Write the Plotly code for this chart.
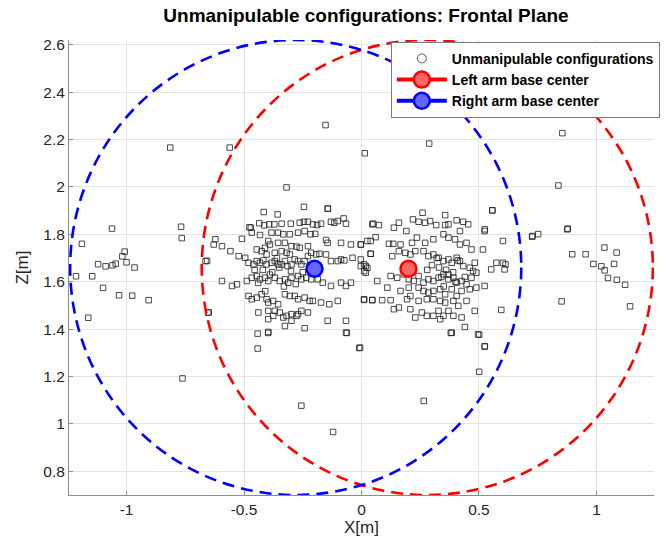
import plotly.graph_objects as go

# ---------------- data ----------------
# Unmanipulable configurations, cluster around the right arm base (negative X)
right_cluster_x = [-0.245, -0.144, -0.357, -0.416, -0.477, -0.435, -0.414, -0.393, -0.371, -0.340, -0.301, -0.263,
                   -0.245, -0.228, -0.207, -0.189, -0.172, -0.130, -0.116, -0.101, -0.076, -0.066, -0.467, -0.432,
                   -0.383, -0.355, -0.333, -0.305, -0.270, -0.242, -0.217, -0.197, -0.151, -0.144, -0.087, -0.045,
                   -0.003, 0.025, 0.039, 0.046, -0.622, -0.629, -0.594, -0.558, -0.509, -0.397, -0.390, -0.355,
                   -0.326, -0.298, -0.277, -0.263, -0.228, -0.214, -0.193, -0.179, -0.151, -0.130, -0.101, -0.087,
                   -0.073, -0.038, -0.003, 0.011, 0.025, 0.018, -0.664, -0.523, -0.495, -0.481, -0.460, -0.446,
                   -0.432, -0.418, -0.404, -0.383, -0.369, -0.355, -0.340, -0.326, -0.315, -0.298, -0.284, -0.270,
                   -0.256, -0.242, -0.228, -0.404, -0.369, -0.340, -0.319, -0.305, -0.446, -0.425, -0.411, -0.594,
                   -0.551, -0.530, -0.488, -0.467, -0.446, -0.432, -0.411, -0.397, -0.369, -0.348, -0.326, -0.312,
                   -0.298, -0.270, -0.256, -0.235, -0.214, -0.186, -0.165, -0.130, -0.087, -0.066, -0.045, -0.481,
                   -0.467, -0.446, -0.425, -0.404, -0.397, -0.376, -0.355, -0.326, -0.305, -0.284, -0.270, -0.242,
                   -0.221, -0.207, -0.172, -0.137, -0.101, 0.011, 0.046, -0.439, -0.397, -0.369, -0.348, -0.333,
                   -0.319, -0.298, -0.277, -0.256, -0.228, -0.397, -0.376, -0.326, -0.298, -0.270, -0.242, -0.144,
                   -0.066, -0.066, -0.442, -0.397, -0.442, -0.006, -0.650, -0.397, -0.010, -0.062,
                   -0.420, -0.380, -0.350, -0.455, -0.300, -0.250, -0.390, -0.330, -0.360, -0.410, -0.280, -0.440]
right_cluster_z = [1.916, 1.909, 1.884, 1.894, 1.830, 1.847, 1.838, 1.842, 1.842, 1.845, 1.845, 1.849,
                   1.853, 1.853, 1.842, 1.839, 1.845, 1.853, 1.849, 1.856, 1.867, 1.845, 1.807, 1.797,
                   1.807, 1.807, 1.800, 1.800, 1.807, 1.814, 1.800, 1.802, 1.776, 1.764, 1.764, 1.757,
                   1.757, 1.772, 1.718, 1.842, 1.779, 1.757, 1.750, 1.729, 1.781, 1.772, 1.757, 1.764,
                   1.764, 1.750, 1.748, 1.743, 1.750, 1.722, 1.715, 1.718, 1.715, 1.687, 1.687, 1.694,
                   1.690, 1.701, 1.694, 1.673, 1.659, 1.638, 1.687, 1.708, 1.701, 1.680, 1.673, 1.687,
                   1.680, 1.690, 1.673, 1.680, 1.687, 1.673, 1.673, 1.687, 1.666, 1.673, 1.694, 1.687,
                   1.673, 1.687, 1.708, 1.715, 1.722, 1.729, 1.722, 1.715, 1.736, 1.729, 1.743, 1.603,
                   1.582, 1.589, 1.603, 1.617, 1.624, 1.610, 1.617, 1.603, 1.617, 1.603, 1.610, 1.596,
                   1.617, 1.624, 1.610, 1.617, 1.610, 1.610, 1.596, 1.582, 1.596, 1.582, 1.596, 1.540,
                   1.526, 1.533, 1.547, 1.526, 1.512, 1.519, 1.505, 1.547, 1.540, 1.540, 1.526, 1.533,
                   1.519, 1.519, 1.512, 1.505, 1.519, 1.523, 1.523, 1.470, 1.477, 1.477, 1.470, 1.449,
                   1.456, 1.463, 1.456, 1.477, 1.470, 1.442, 1.456, 1.413, 1.435, 1.463, 1.404, 1.435,
                   1.435, 1.385, 1.381, 1.388, 1.318, 1.322, 1.470, 1.384, 1.320, 1.384,
                   1.650, 1.640, 1.660, 1.650, 1.645, 1.640, 1.630, 1.580, 1.700, 1.560, 1.590, 1.595]

# Unmanipulable configurations, cluster around the left arm base (positive X)
left_cluster_x = [0.260, 0.356, 0.557, 0.050, 0.074, 0.159, 0.138, 0.191, 0.219, 0.243, 0.271, 0.292,
                  0.318, 0.356, 0.370, 0.405, 0.433, 0.454, 0.419, 0.524, 0.602, 0.728, -0.003, 0.039,
                  0.060, 0.117, 0.135, 0.166, 0.215, 0.236, 0.271, 0.306, 0.349, 0.370, 0.398, 0.419,
                  0.447, 0.468, 0.517, 0.039, 0.131, 0.159, 0.187, 0.208, 0.229, 0.264, 0.285, 0.306,
                  0.328, 0.349, 0.370, 0.384, 0.405, 0.419, 0.433, 0.461, 0.482, 0.489, 0.574, 0.602,
                  0.613, 0.552, 0.609, -0.003, 0.011, 0.018, 0.124, 0.152, 0.180, 0.201, 0.222, 0.243,
                  0.264, 0.285, 0.306, 0.328, 0.349, 0.370, 0.391, 0.405, 0.426, 0.447, 0.468, 0.475,
                  0.067, 0.110, 0.166, 0.201, 0.243, 0.264, 0.285, 0.306, 0.335, 0.356, 0.384, 0.405,
                  0.426, 0.461, 0.489, 0.524, 0.011, 0.046, 0.088, 0.124, 0.194, 0.208, 0.243, 0.278,
                  0.306, 0.335, 0.356, 0.391, 0.412, 0.447, 0.482, 0.595, 0.138, 0.159, 0.208, 0.229,
                  0.257, 0.278, 0.306, 0.328, 0.349, 0.370, 0.391, 0.426, 0.335, 0.440, 0.384, 0.496,
                  0.524, 0.501, 0.380, 0.525,
                  0.330, 0.360, 0.300, 0.390, 0.340, 0.410, 0.320, 0.370, 0.280, 0.440, 0.350, 0.400]
left_cluster_z = [1.891, 1.881, 1.901, 1.845, 1.839, 1.849, 1.828, 1.814, 1.863, 1.853, 1.849, 1.856,
                  1.839, 1.839, 1.842, 1.859, 1.853, 1.842, 1.814, 1.814, 1.772, 1.793, 1.757, 1.772,
                  1.788, 1.760, 1.760, 1.757, 1.764, 1.786, 1.764, 1.779, 1.800, 1.786, 1.779, 1.757,
                  1.764, 1.736, 1.736, 1.718, 1.708, 1.729, 1.722, 1.715, 1.729, 1.729, 1.708, 1.715,
                  1.701, 1.687, 1.694, 1.680, 1.701, 1.687, 1.666, 1.659, 1.680, 1.638, 1.680, 1.680,
                  1.673, 1.652, 1.652, 1.666, 1.645, 1.666, 1.624, 1.617, 1.631, 1.610, 1.603, 1.624,
                  1.596, 1.610, 1.603, 1.617, 1.631, 1.610, 1.617, 1.596, 1.603, 1.589, 1.617, 1.645,
                  1.603, 1.575, 1.561, 1.575, 1.575, 1.561, 1.554, 1.561, 1.568, 1.547, 1.568, 1.540,
                  1.561, 1.568, 1.575, 1.582, 1.526, 1.522, 1.522, 1.522, 1.526, 1.540, 1.519, 1.526,
                  1.526, 1.519, 1.512, 1.519, 1.498, 1.519, 1.477, 1.481, 1.484, 1.491, 1.484, 1.449,
                  1.470, 1.456, 1.456, 1.477, 1.456, 1.477, 1.456, 1.449, 1.442, 1.409, 1.385, 1.378,
                  1.326, 1.376, 1.384, 1.328,
                  1.660, 1.650, 1.670, 1.640, 1.620, 1.690, 1.700, 1.630, 1.650, 1.620, 1.580, 1.600]

# Scattered configurations far from the clusters
outlier_x = [-0.153, -0.814, -0.561, 0.014, -0.319, -0.143, -1.062, -0.768, -0.471, 0.855, 0.288, 0.838,
             0.557, 0.878, 0.525, -0.762, -0.256, -0.121, 0.501, 0.265,
             -0.765, -1.190, -1.008, -1.018, -1.000, -1.046, -1.060, -1.089, -1.121, -0.966, -1.215, -1.146,
             -1.100, -1.032, -0.976, -0.906, -1.163, -0.657, -0.653,
             0.876, 0.752, 0.726, 1.034, 1.086, 0.897, 0.954, 0.987, 1.021, 1.035, 1.075, 1.049, 1.087,
             1.122, 0.852, 1.143]
outlier_z = [2.261, 2.166, 2.166, 2.142, 1.998, 1.908, 1.824, 1.832, 1.828, 2.227, 2.183, 2.006,
             1.901, 1.824, 1.821, 1.192, 1.077, 0.966, 1.220, 1.097,
             1.784, 1.760, 1.727, 1.707, 1.682, 1.676, 1.669, 1.665, 1.674, 1.660, 1.623, 1.623,
             1.574, 1.543, 1.541, 1.522, 1.448, 1.688, 1.470,
             1.821, 1.801, 1.790, 1.744, 1.723, 1.716, 1.716, 1.675, 1.665, 1.648, 1.675, 1.616, 1.608,
             1.587, 1.517, 1.496]

# Arm base centers [X, Z]
left_base = [0.20, 1.655]
right_base = [-0.20, 1.655]

# Reach circles (center X, center Z, radius)
left_reach = [0.28, 1.66, 0.96]
right_reach = [-0.28, 1.66, 0.96]

x_range = [-1.245, 1.245]
z_range = [0.70, 2.62]
x_ticks = [-1, -0.5, 0, 0.5, 1]
x_tick_text = ["-1", "-0.5", "0", "0.5", "1"]
z_ticks = [0.8, 1.0, 1.2, 1.4, 1.6, 1.8, 2.0, 2.2, 2.4, 2.6]
z_tick_text = ["0.8", "1", "1.2", "1.4", "1.6", "1.8", "2", "2.2", "2.4", "2.6"]

# ---------------- figure ----------------
pts_x = right_cluster_x + left_cluster_x + outlier_x
pts_z = right_cluster_z + left_cluster_z + outlier_z

fig = go.Figure()

fig.add_trace(go.Scatter(
    x=pts_x, y=pts_z, mode="markers", showlegend=False, hoverinfo="skip",
    marker=dict(symbol="square-open", size=5.5, color="rgba(30,30,30,0.8)", line=dict(width=1))))

# legend-only entry
fig.add_trace(go.Scatter(
    x=[None], y=[None], mode="markers", name="Unmanipulable configurations",
    marker=dict(symbol="circle-open", size=9, color="#555555", line=dict(width=1))))

fig.add_trace(go.Scatter(
    x=[left_base[0]], y=[left_base[1]], mode="lines+markers", name="Left arm base center",
    line=dict(color="#ff0000", width=4),
    marker=dict(symbol="circle", size=16, color="#ff6666", line=dict(color="#ff0000", width=2.5))))

fig.add_trace(go.Scatter(
    x=[right_base[0]], y=[right_base[1]], mode="lines+markers", name="Right arm base center",
    line=dict(color="#0000ff", width=4),
    marker=dict(symbol="circle", size=16, color="#6666ff", line=dict(color="#0000ff", width=2.5))))

for (cx, cz, r), col in [(left_reach, "#ff0000"), (right_reach, "#0000ff")]:
    fig.add_shape(type="circle", xref="x", yref="y",
                  x0=cx - r, x1=cx + r, y0=cz - r, y1=cz + r,
                  line=dict(color=col, width=2.6, dash="12px,7px"), layer="above")

axis_common = dict(
    showgrid=True, gridcolor="#e4e4e4", gridwidth=1,
    showline=True, linecolor="#8c8c8c", linewidth=1,
    ticks="inside", ticklen=4, tickcolor="#8c8c8c",
    tickfont=dict(family="Arial", size=15.5, color="#262626"),
    zeroline=False, mirror=False,
)

fig.update_layout(
    width=672, height=553,
    margin=dict(l=69, r=13, t=40, b=58),
    paper_bgcolor="white", plot_bgcolor="white",
    title=dict(text="Unmanipulable configurations: Frontal Plane",
               x=366 / 672, xref="container", xanchor="center",
               y=1 - 15 / 553, yref="container", yanchor="middle",
               font=dict(family="Arial", size=19, color="#000000", weight="bold")),
    xaxis=dict(range=x_range, tickvals=x_ticks, ticktext=x_tick_text,
               title=dict(text="X[m]", standoff=4,
                          font=dict(family="Arial", size=17, color="#262626")),
               **axis_common),
    yaxis=dict(range=z_range, tickvals=z_ticks, ticktext=z_tick_text,
               title=dict(text="Z[m]", standoff=10,
                          font=dict(family="Arial", size=17, color="#262626")),
               **axis_common),
    legend=dict(x=1.01, xanchor="right", y=0.996, yanchor="top",
                bgcolor="white", bordercolor="#7a7a7a", borderwidth=1,
                font=dict(family="Arial", size=14, color="#000000", weight="bold"),
                itemwidth=50, tracegroupgap=0),
    showlegend=True,
)

fig.write_html("out.html")
